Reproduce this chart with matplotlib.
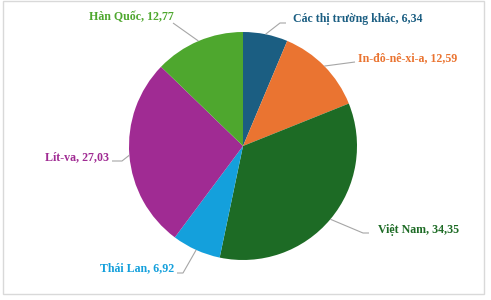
import numpy as np
import matplotlib
matplotlib.use("Agg")
import matplotlib.pyplot as plt
from matplotlib.patches import Rectangle

# ---- data ----
categories = ["Các thị trường khác", "In-đô-nê-xi-a", "Việt Nam", "Thái Lan", "Lít-va", "Hàn Quốc"]
values = [6.34, 12.59, 34.35, 6.92, 27.03, 12.77]
value_labels = ["6,34", "12,59", "34,35", "6,92", "27,03", "12,77"]
colors = ["#1B5E82", "#EA7431", "#1D6B25", "#14A0DC", "#A02B93", "#4EA72E"]

# ---- layout (pixel coords, y downward in image) ----
W, H = 491, 300
center_img = (243, 146)
radius = 114
text_pos = [(293, 19), (358, 58), (378, 230), (174, 268), (109, 157), (174, 17)]
text_ha = ["left", "left", "left", "right", "right", "right"]
elbows = [(280, 23), (355, 62), (363, 233), (183, 273), (122, 161), (173, 23)]
line_ends = [(286, 23), (355, 62), (369, 233), (177, 273), (112, 161), (173, 23)]

fig = plt.figure(figsize=(W / 100, H / 100), dpi=100)
ax = fig.add_axes([0, 0, 1, 1])

def fy(y):
    return H - y

cx, cy = center_img[0], fy(center_img[1])
wedges, _ = ax.pie(values, colors=colors, startangle=90, counterclock=False,
                   radius=radius, center=(cx, cy), frame=True,
                   wedgeprops=dict(linewidth=0))
ax.set_xlim(0, W)
ax.set_ylim(0, H)
ax.set_aspect("equal")
ax.axis("off")

for i, w in enumerate(wedges):
    ang = np.deg2rad((w.theta1 + w.theta2) / 2)
    ex = cx + radius * np.cos(ang)
    ey = cy + radius * np.sin(ang)
    ebx, eby = elbows[i][0], fy(elbows[i][1])
    lx, ly = line_ends[i][0], fy(line_ends[i][1])
    ax.plot([ex, ebx, lx], [ey, eby, ly], color="#A6A6A6", lw=0.8,
            solid_capstyle="butt", zorder=1)
    tx, ty = text_pos[i][0], fy(text_pos[i][1])
    ax.text(tx, ty, f"{categories[i]}, {value_labels[i]}", ha=text_ha[i], va="center",
            color=colors[i], fontsize=8.6, fontweight="bold",
            family=["Liberation Serif", "DejaVu Serif"])

fig.add_artist(Rectangle((3 / W, 1 - 294 / H), 481 / W, 293 / H,
                         transform=fig.transFigure, fill=False,
                         edgecolor="#D9D9D9", lw=1))

fig.savefig("out.png", dpi=100)
